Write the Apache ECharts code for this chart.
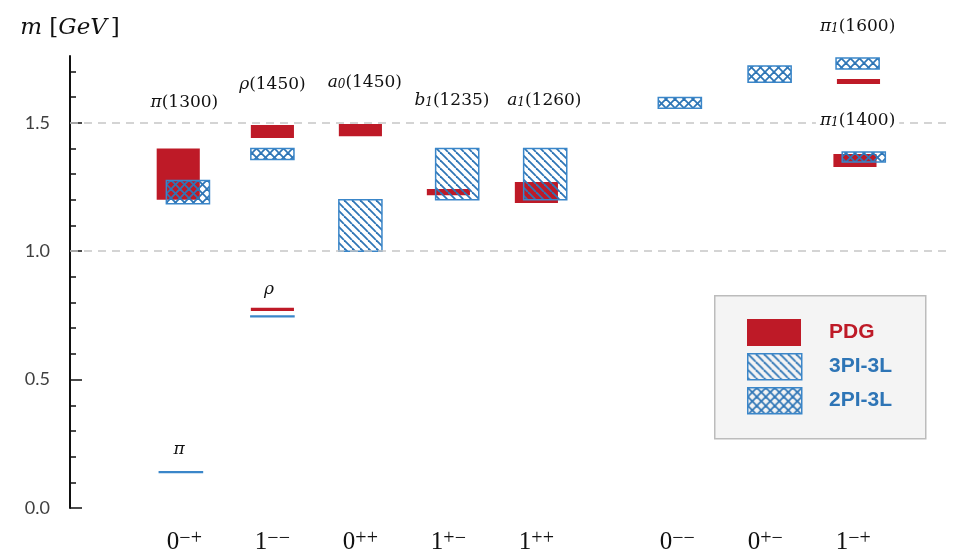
<!DOCTYPE html>
<html>
<head>
<meta charset="utf-8">
<script src="https://cdn.jsdelivr.net/npm/echarts@6/dist/echarts.min.js"></script>
<style>
html,body{margin:0;padding:0;background:#fff}
#main{width:956px;height:554px}
</style>
</head>
<body>
<div id="main"></div>
<script>
// J^PC channels along the x axis
var jpcPos = [1, 2, 3, 4, 5, 6.6, 7.6, 8.6];
var jpcBase = ['0', '1', '0', '1', '1', '0', '0', '1'];
var jpcSup = ['\u2212+', '\u2212\u2212', '++', '+\u2212', '++', '\u2212\u2212', '+\u2212', '\u2212+'];

// PDG masses (GeV): x, low, high
var pdgX = [0.93, 2.0, 2.0, 3.0, 4.0, 5.0, 8.66, 8.62];
var pdgLow = [1.20, 0.767, 1.441, 1.448, 1.218, 1.188, 1.651, 1.328];
var pdgHigh = [1.40, 0.780, 1.491, 1.495, 1.242, 1.269, 1.670, 1.378];

// 3PI-3L
var pi3X = [3.0, 4.1, 5.1];
var pi3Low = [1.0, 1.2, 1.2];
var pi3High = [1.2, 1.4, 1.4];

// 2PI-3L
var pi2X = [0.96, 1.04, 2.0, 2.0, 6.63, 7.65, 8.65, 8.72];
var pi2Low = [0.138, 1.185, 0.745, 1.357, 1.557, 1.658, 1.709, 1.347];
var pi2High = [0.141, 1.275, 0.748, 1.400, 1.598, 1.721, 1.752, 1.386];

// state names
var nameSym = ['\u03c0', '\u03c1', 'a', 'b', 'a', '\u03c0', '\u03c0', '\u03c1', '\u03c0'];
var nameSub = ['', '', '0', '1', '1', '1', '1', '', ''];
var nameMass = ['(1300)', '(1450)', '(1450)', '(1235)', '(1260)', '(1600)', '(1400)', '', ''];
var nameX = [1.0, 2.0, 3.05, 4.04, 5.09, 8.65, 8.65, 1.96, 0.94];
var nameY = [1.588, 1.655, 1.666, 1.596, 1.596, 1.884, 1.518, 0.86, 0.236];

var yMinor = [0, 0.1, 0.2, 0.3, 0.4, 0.5, 0.6, 0.7, 0.8, 0.9, 1.0, 1.1, 1.2, 1.3, 1.4, 1.5, 1.6, 1.7];
var yMajor = [0, 0.5, 1.0, 1.5];

var RED = '#be1a27';
var BLUE = '#2e75b6';
var EDGE = '#3a86c9';
var BOX_W = 0.49;

function makePattern(size, cross) {
    var c = document.createElement('canvas');
    c.width = size; c.height = size;
    var ctx = c.getContext('2d');
    ctx.strokeStyle = BLUE;
    ctx.lineWidth = 1.8;
    for (var k = -size; k <= size; k += size) {
        ctx.beginPath();
        ctx.moveTo(k, 0);
        ctx.lineTo(k + size, size);
        ctx.stroke();
        if (cross) {
            ctx.beginPath();
            ctx.moveTo(k + size, 0);
            ctx.lineTo(k, size);
            ctx.stroke();
        }
    }
    return {image: c, repeat: 'repeat'};
}
var hatch = makePattern(8, false);
var crossHatch = makePattern(9, true);

function zipBoxes(xs, lows, highs) {
    var out = [];
    for (var i = 0; i < xs.length; i++) out.push([xs[i], lows[i], highs[i]]);
    return out;
}

function boxRenderer(fill, stroke) {
    return function (params, api) {
        var x = api.value(0), lo = api.value(1), hi = api.value(2);
        var p1 = api.coord([x - BOX_W / 2, hi]);
        var p2 = api.coord([x + BOX_W / 2, lo]);
        return {
            type: 'rect',
            shape: {x: p1[0], y: p1[1], width: p2[0] - p1[0], height: Math.max(p2[1] - p1[1], 0.5)},
            style: {fill: fill, stroke: stroke || null, lineWidth: stroke ? 1.5 : 0}
        };
    };
}

var nameData = [];
for (var i = 0; i < nameX.length; i++) {
    var t = '{i|' + nameSym[i] + '}';
    if (nameSub[i]) t += '{sub|' + nameSub[i] + '}';
    if (nameMass[i]) t += '{n|' + nameMass[i] + '}';
    nameData.push([nameX[i], nameY[i], t]);
}

var nameRich = {
    i: {fontFamily: 'DejaVu Serif', fontStyle: 'italic', fontSize: 17, fill: '#111', verticalAlign: 'bottom', lineHeight: 21},
    sub: {fontFamily: 'DejaVu Serif', fontStyle: 'italic', fontSize: 12, fill: '#111', verticalAlign: 'bottom', lineHeight: 17},
    n: {fontFamily: 'DejaVu Serif', fontSize: 17, fill: '#111', verticalAlign: 'bottom', lineHeight: 21}
};

var gridBox = {left: 70, right: 6, top: 56, bottom: 46, containLabel: false, outerBoundsMode: 'none'};

var chart = echarts.init(document.getElementById('main'));
var option = {
    animation: false,
    grid: [gridBox, gridBox],
    xAxis: [
        {
            type: 'value', min: -0.3, max: 9.7, gridIndex: 0,
            axisLine: {show: false, onZero: false}, axisTick: {show: false}, splitLine: {show: false},
            axisLabel: {
                customValues: jpcPos,
                margin: 21,
                formatter: function (v) {
                    for (var i = 0; i < jpcPos.length; i++) {
                        if (Math.abs(jpcPos[i] - v) < 1e-6) return '{b|' + jpcBase[i] + '}{s|' + jpcSup[i] + '}';
                    }
                    return '';
                },
                rich: {
                    b: {fontFamily: 'Liberation Serif', fontSize: 25, color: '#111', lineHeight: 26, verticalAlign: 'bottom'},
                    s: {fontFamily: 'Liberation Serif', fontSize: 20, color: '#111', lineHeight: 12, verticalAlign: 'top'}
                }
            }
        },
        {type: 'value', gridIndex: 1, min: 0, max: 1, show: false}
    ],
    yAxis: [
        {
            type: 'value', min: 0, max: 1.76, gridIndex: 0, position: 'left',
            axisLine: {show: true, onZero: false, lineStyle: {color: '#111', width: 2}},
            axisTick: {show: true, inside: true, length: 6, customValues: yMinor, lineStyle: {color: '#111', width: 1.5}},
            axisLabel: {show: false},
            splitLine: {show: false}
        },
        {
            type: 'value', min: 0, max: 1.76, gridIndex: 1, position: 'left',
            name: '{i|m} {n|[}{i|GeV}{n|]}',
            nameLocation: 'end',
            nameGap: 16,
            nameTextStyle: {
                rich: {
                    i: {fontFamily: 'DejaVu Serif', fontStyle: 'italic', fontSize: 23, color: '#111'},
                    n: {fontFamily: 'DejaVu Serif', fontSize: 23, color: '#111', padding: [0, 0, 0, 4]}
                }
            },
            axisLine: {show: false, onZero: false},
            axisTick: {show: true, inside: true, length: 12, customValues: yMajor, lineStyle: {color: '#111', width: 1.5}},
            axisLabel: {
                customValues: yMajor, margin: 20,
                formatter: function (v) { return v.toFixed(1); },
                fontFamily: 'Lato', fontSize: 18, color: '#404040'
            },
            splitLine: {show: false}
        }
    ],
    series: [
        {
            type: 'line', data: [], z: 1, silent: true,
            markLine: {
                silent: true, symbol: 'none', label: {show: false},
                lineStyle: {type: [8, 6], color: '#c6c6c6', width: 1.5},
                data: [{yAxis: 1.0}, {yAxis: 1.5}]
            }
        },
        {
            name: 'PDG', type: 'custom', z: 2,
            renderItem: boxRenderer(RED, null),
            encode: {x: 0, y: [1, 2]},
            data: zipBoxes(pdgX, pdgLow, pdgHigh)
        },
        {
            name: '3PI-3L', type: 'custom', z: 3,
            renderItem: boxRenderer(hatch, EDGE),
            encode: {x: 0, y: [1, 2]},
            data: zipBoxes(pi3X, pi3Low, pi3High)
        },
        {
            name: '2PI-3L', type: 'custom', z: 3,
            renderItem: boxRenderer(crossHatch, EDGE),
            encode: {x: 0, y: [1, 2]},
            data: zipBoxes(pi2X, pi2Low, pi2High)
        },
        {
            type: 'custom', z: 5, silent: true,
            renderItem: function (params, api) {
                var p = api.coord([api.value(0), api.value(1)]);
                return {
                    type: 'text', x: p[0], y: p[1],
                    style: {
                        text: nameData[params.dataIndex][2],
                        rich: nameRich,
                        align: 'center', verticalAlign: 'middle',
                        backgroundColor: '#fff', padding: [0, 4]
                    }
                };
            },
            encode: {x: 0, y: 1},
            data: nameData
        }
    ],
    graphic: [
        {type: 'rect', left: 714, top: 295, shape: {width: 211, height: 143},
            style: {fill: '#f4f4f4', stroke: '#bcbcbc', lineWidth: 1.5}},
        {type: 'rect', left: 747, top: 319, shape: {width: 54, height: 27}, style: {fill: RED}},
        {type: 'rect', left: 747, top: 353, shape: {width: 54, height: 26},
            style: {fill: hatch, stroke: EDGE, lineWidth: 1.5}},
        {type: 'rect', left: 747, top: 387, shape: {width: 54, height: 26},
            style: {fill: crossHatch, stroke: EDGE, lineWidth: 1.5}},
        {type: 'text', left: 829, top: 322, style: {text: 'PDG', fill: RED, font: 'bold 21px "Liberation Sans"'}},
        {type: 'text', left: 829, top: 356, style: {text: '3PI-3L', fill: BLUE, font: 'bold 21px "Liberation Sans"'}},
        {type: 'text', left: 829, top: 390, style: {text: '2PI-3L', fill: BLUE, font: 'bold 21px "Liberation Sans"'}}
    ]
};
chart.setOption(option);
</script>
</body>
</html>
